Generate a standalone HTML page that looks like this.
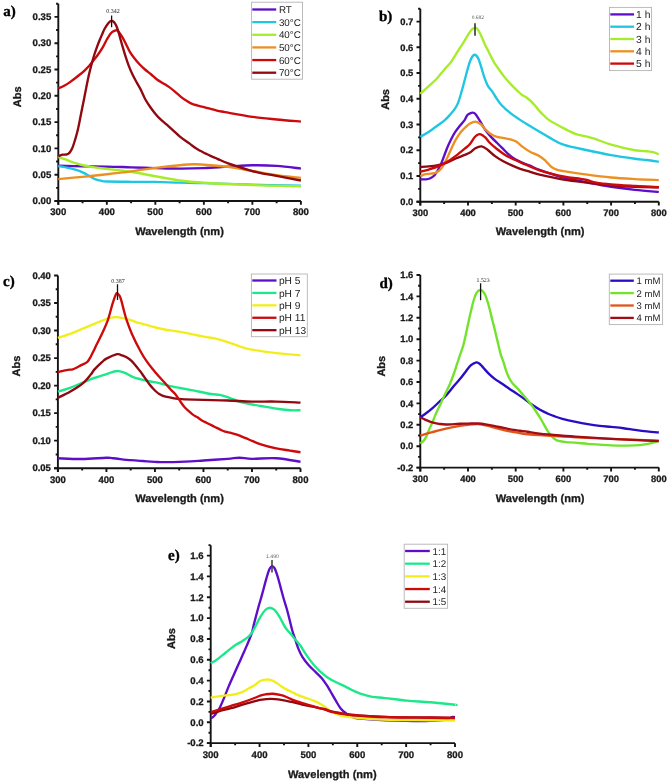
<!DOCTYPE html><html><head><meta charset="utf-8"><style>html,body{margin:0;padding:0;background:#fff;}svg{display:block;text-rendering:geometricPrecision;filter:blur(0.4px);}</style></head><body>
<svg width="669" height="783" viewBox="0 0 669 783">
<rect width="669" height="783" fill="#fff"/>
<g stroke="#141414" stroke-width="1.9" fill="none" stroke-linecap="butt">
<path d="M58.3 3.75 V204.8 M54.5 201 H300.9"/>
<path d="M54.5 201H58.3M54.5 174.7H58.3M54.5 148.4H58.3M54.5 122.1H58.3M54.5 95.8H58.3M54.5 69.5H58.3M54.5 43.2H58.3M54.5 16.9H58.3M56.1 187.85H58.3M56.1 161.55H58.3M56.1 135.25H58.3M56.1 108.95H58.3M56.1 82.65H58.3M56.1 56.35H58.3M56.1 30.05H58.3M56.1 3.75H58.3M58.3 201V204.8M106.82 201V204.8M155.34 201V204.8M203.86 201V204.8M252.38 201V204.8M300.9 201V204.8M82.56 201V203.2M131.08 201V203.2M179.6 201V203.2M228.12 201V203.2M276.64 201V203.2"/>
</g>
<g font-family='"Liberation Sans", sans-serif' font-weight="bold" font-size="9.6" fill="#1a1a1a" stroke="#1a1a1a" stroke-width="0.3">
<text x="51.3" y="204.26" text-anchor="end">0.00</text>
<text x="51.3" y="177.96" text-anchor="end">0.05</text>
<text x="51.3" y="151.66" text-anchor="end">0.10</text>
<text x="51.3" y="125.36" text-anchor="end">0.15</text>
<text x="51.3" y="99.06" text-anchor="end">0.20</text>
<text x="51.3" y="72.76" text-anchor="end">0.25</text>
<text x="51.3" y="46.46" text-anchor="end">0.30</text>
<text x="51.3" y="20.16" text-anchor="end">0.35</text>
<text x="58.3" y="215.47" text-anchor="middle">300</text>
<text x="106.82" y="215.47" text-anchor="middle">400</text>
<text x="155.34" y="215.47" text-anchor="middle">500</text>
<text x="203.86" y="215.47" text-anchor="middle">600</text>
<text x="252.38" y="215.47" text-anchor="middle">700</text>
<text x="300.9" y="215.47" text-anchor="middle">800</text>
</g>
<path d="M58.3 165.76C62.34 165.85 74.47 166.15 82.56 166.28C90.65 166.42 98.73 166.37 106.82 166.55C114.91 166.72 122.99 167.08 131.08 167.34C139.17 167.59 147.25 167.85 155.34 168.07C163.43 168.29 171.51 168.63 179.6 168.65C187.69 168.67 195.77 168.51 203.86 168.18C211.95 167.84 220.03 167.13 228.12 166.65C236.21 166.17 244.29 165.42 252.38 165.28C260.47 165.15 268.55 165.32 276.64 165.86C284.73 166.41 296.86 168.1 300.9 168.55" stroke="#5e0ec8" stroke-width="2.35" fill="none" stroke-linejoin="round" stroke-linecap="butt"/>
<path d="M58.3 166.02C59.92 166.33 65.34 167.29 68 167.86C70.67 168.43 71.89 168.69 74.31 169.44C76.74 170.19 79.97 171.19 82.56 172.33C85.15 173.47 87.65 175.09 89.84 176.28C92.02 177.46 93.64 178.64 95.66 179.43C97.68 180.22 100.11 180.66 101.97 181.01C103.83 181.36 101.97 181.41 106.82 181.54C111.67 181.67 122.99 181.74 131.08 181.8C139.17 181.86 147.25 181.77 155.34 181.91C163.43 182.05 171.51 182.44 179.6 182.64C187.69 182.84 191.73 182.77 203.86 183.12C215.99 183.46 236.21 184.26 252.38 184.69C268.55 185.13 292.81 185.57 300.9 185.75" stroke="#1ec6e2" stroke-width="2.35" fill="none" stroke-linejoin="round" stroke-linecap="butt"/>
<path d="M58.3 156.82C59.51 157.25 63.15 158.53 65.58 159.45C68 160.37 70.14 161.41 72.86 162.34C75.57 163.27 78.24 164.19 81.88 165.02C85.52 165.85 90.37 166.65 94.69 167.34C99.01 168.02 101.73 168.39 107.79 169.12C113.86 169.86 123.16 170.56 131.08 171.75C139 172.95 147.25 174.82 155.34 176.28C163.43 177.73 171.51 179.41 179.6 180.49C187.69 181.56 191.73 181.98 203.86 182.75C215.99 183.52 236.21 184.53 252.38 185.11C268.55 185.7 292.81 186.08 300.9 186.27" stroke="#a6ec2a" stroke-width="2.35" fill="none" stroke-linejoin="round" stroke-linecap="butt"/>
<path d="M58.3 179.17C62.34 178.78 74.47 177.62 82.56 176.8C90.65 175.99 98.73 175.18 106.82 174.28C114.91 173.38 122.99 172.46 131.08 171.39C139.17 170.32 147.25 168.89 155.34 167.86C163.43 166.84 173.13 165.83 179.6 165.23C186.07 164.64 190.11 164.37 194.16 164.29C198.2 164.2 198.2 164.29 203.86 164.71C209.52 165.13 220.03 165.76 228.12 166.81C236.21 167.86 244.29 169.62 252.38 171.02C260.47 172.42 268.55 174.08 276.64 175.23C284.73 176.37 296.86 177.46 300.9 177.91" stroke="#ec9022" stroke-width="2.35" fill="none" stroke-linejoin="round" stroke-linecap="butt"/>
<path d="M58.3 88.44C59.27 88 62.17 86.86 64.12 85.81C66.07 84.75 67.41 83.96 69.99 82.12C72.57 80.28 77.18 76.69 79.6 74.76C82.02 72.83 82.9 72.04 84.5 70.55C86.1 69.06 87.72 67.48 89.21 65.82C90.7 64.15 91.98 62.4 93.43 60.56C94.88 58.72 96.4 56.88 97.89 54.77C99.39 52.67 100.92 50.48 102.4 47.93C103.89 45.39 105.34 42.06 106.82 39.52C108.3 36.98 109.93 34.17 111.28 32.68C112.63 31.19 113.97 30.97 114.92 30.58C115.88 30.18 116.33 30.05 117.01 30.31C117.69 30.58 118.08 30.97 119 32.15C119.91 33.34 121.31 35.4 122.49 37.41C123.67 39.43 124.88 41.89 126.08 44.25C127.29 46.62 128.37 49.34 129.72 51.62C131.07 53.9 132.55 55.82 134.19 57.93C135.82 60.03 137.72 62.31 139.52 64.24C141.33 66.17 143.1 67.83 145.01 69.5C146.91 71.17 148.98 72.57 150.97 74.23C152.97 75.9 155 78 156.99 79.49C158.98 80.98 160.93 81.95 162.91 83.18C164.89 84.4 166.88 85.46 168.88 86.86C170.87 88.26 172.89 89.93 174.89 91.59C176.9 93.26 178.91 95.27 180.91 96.85C182.91 98.43 184.9 99.83 186.88 101.06C188.86 102.29 189.81 103.16 192.8 104.22C195.78 105.27 200.78 106.32 204.78 107.37C208.78 108.42 213.44 109.74 216.81 110.53C220.19 111.32 219.09 111.05 225.01 112.11C230.94 113.16 243.78 115.61 252.38 116.84C260.98 118.07 268.55 118.68 276.64 119.47C284.73 120.26 296.86 121.22 300.9 121.57" stroke="#cc0a0c" stroke-width="2.35" fill="none" stroke-linejoin="round" stroke-linecap="butt"/>
<path d="M58.3 156.29C59 156.03 61.04 155.03 62.47 154.71C63.9 154.4 65.7 154.75 66.89 154.4C68.08 154.05 68.7 153.66 69.61 152.61C70.51 151.56 71.42 150.17 72.32 148.08C73.22 146 74.09 143.07 74.99 140.09C75.89 137.11 76.88 133.64 77.71 130.2C78.53 126.76 79.19 123.19 79.94 119.47C80.69 115.75 81.5 111.49 82.22 107.9C82.94 104.3 83.58 101.32 84.26 97.9C84.94 94.48 85.52 91.24 86.3 87.38C87.07 83.53 88.03 78.62 88.92 74.76C89.8 70.9 90.69 67.57 91.58 64.24C92.48 60.91 93.4 57.66 94.3 54.77C95.21 51.88 96.12 49.34 97.02 46.88C97.92 44.43 98.79 42.24 99.69 40.04C100.59 37.85 101.6 35.57 102.4 33.73C103.21 31.89 103.51 30.75 104.49 29C105.47 27.24 107.14 24.58 108.28 23.21C109.42 21.84 110.38 20.97 111.33 20.79C112.29 20.62 113.18 21.32 114 22.16C114.83 23 115.53 24.18 116.28 25.84C117.03 27.51 117.78 29.79 118.51 32.15C119.25 34.52 119.95 37.41 120.7 40.04C121.44 42.67 122.14 45.13 122.98 47.93C123.81 50.74 124.72 53.9 125.69 56.88C126.66 59.86 127.68 62.92 128.8 65.82C129.92 68.71 131.06 71.43 132.39 74.23C133.72 77.04 135.45 80.17 136.81 82.65C138.16 85.13 139.11 86.4 140.49 89.12C141.88 91.84 143.48 95.98 145.1 98.96C146.72 101.94 148.5 104.55 150.2 107C151.9 109.46 153.59 111.65 155.29 113.68C156.99 115.72 158.42 117.32 160.39 119.21C162.35 121.09 163.88 122.14 167.08 124.99C170.28 127.84 175.78 133.15 179.6 136.3C183.42 139.45 187.4 141.96 189.98 143.88C192.57 145.8 193.42 146.66 195.13 147.82C196.83 148.98 198.52 149.89 200.22 150.82C201.92 151.75 203.62 152.55 205.32 153.4C207.01 154.25 208.71 155.15 210.41 155.92C212.11 156.69 213.9 157.34 215.5 158.03C217.11 158.71 217.91 159.14 220.02 160.02C222.12 160.91 222.73 161.51 228.12 163.34C233.51 165.17 244.29 168.91 252.38 171.02C260.47 173.12 268.55 174.38 276.64 175.96C284.73 177.54 296.86 179.73 300.9 180.49" stroke="#900810" stroke-width="2.35" fill="none" stroke-linejoin="round" stroke-linecap="butt"/>
<path d="M111.6 15.5V27.2" stroke="#111" stroke-width="1.3"/>
<text x="112.9" y="13.2" text-anchor="middle" font-family='"Liberation Serif", serif' font-size="6.0" fill="#222">0.342</text>
<rect x="251.6" y="2.2" width="50.9" height="77" fill="#fff" stroke="#b4b4b4" stroke-width="0.9"/>
<path d="M252.3 9.5H276.2" stroke="#5e0ec8" stroke-width="2.3"/>
<text x="278.9" y="13.03" font-family='"Liberation Sans", sans-serif' font-size="9.8" fill="#222">RT</text>
<path d="M252.3 22.14H276.2" stroke="#1ec6e2" stroke-width="2.3"/>
<text x="278.9" y="25.67" font-family='"Liberation Sans", sans-serif' font-size="9.8" fill="#222">30°C</text>
<path d="M252.3 34.78H276.2" stroke="#a6ec2a" stroke-width="2.3"/>
<text x="278.9" y="38.31" font-family='"Liberation Sans", sans-serif' font-size="9.8" fill="#222">40°C</text>
<path d="M252.3 47.42H276.2" stroke="#ec9022" stroke-width="2.3"/>
<text x="278.9" y="50.95" font-family='"Liberation Sans", sans-serif' font-size="9.8" fill="#222">50°C</text>
<path d="M252.3 60.06H276.2" stroke="#cc0a0c" stroke-width="2.3"/>
<text x="278.9" y="63.59" font-family='"Liberation Sans", sans-serif' font-size="9.8" fill="#222">60°C</text>
<path d="M252.3 72.7H276.2" stroke="#900810" stroke-width="2.3"/>
<text x="278.9" y="76.23" font-family='"Liberation Sans", sans-serif' font-size="9.8" fill="#222">70°C</text>
<text x="0" y="0" transform="translate(20.7 96.8) rotate(-90)" text-anchor="middle" font-family='"Liberation Sans", sans-serif' font-weight="bold" font-size="11" fill="#1a1a1a" stroke="#1a1a1a" stroke-width="0.3">Abs</text>
<text x="135.2" y="235.4" font-family='"Liberation Sans", sans-serif' font-weight="bold" font-size="11.07" fill="#1a1a1a" stroke="#1a1a1a" stroke-width="0.3">Wavelength (nm)</text>
<text x="3.2" y="15.8" font-family='"Liberation Serif", serif' font-weight="bold" font-size="15" fill="#000" stroke="#000" stroke-width="0.35">a)</text>
<g stroke="#141414" stroke-width="1.9" fill="none" stroke-linecap="butt">
<path d="M420.3 8.72 V205.5 M416.5 201.7 H658.8"/>
<path d="M416.5 201.7H420.3M416.5 175.97H420.3M416.5 150.24H420.3M416.5 124.51H420.3M416.5 98.78H420.3M416.5 73.05H420.3M416.5 47.32H420.3M416.5 21.59H420.3M418.1 188.83H420.3M418.1 163.1H420.3M418.1 137.38H420.3M418.1 111.64H420.3M418.1 85.91H420.3M418.1 60.18H420.3M418.1 34.45H420.3M418.1 8.72H420.3M420.3 201.7V205.5M468 201.7V205.5M515.7 201.7V205.5M563.4 201.7V205.5M611.1 201.7V205.5M658.8 201.7V205.5M444.15 201.7V203.9M491.85 201.7V203.9M539.55 201.7V203.9M587.25 201.7V203.9M634.95 201.7V203.9"/>
</g>
<g font-family='"Liberation Sans", sans-serif' font-weight="bold" font-size="9.4" fill="#1a1a1a" stroke="#1a1a1a" stroke-width="0.3">
<text x="413.3" y="204.9" text-anchor="end">0.0</text>
<text x="413.3" y="179.17" text-anchor="end">0.1</text>
<text x="413.3" y="153.44" text-anchor="end">0.2</text>
<text x="413.3" y="127.71" text-anchor="end">0.3</text>
<text x="413.3" y="101.98" text-anchor="end">0.4</text>
<text x="413.3" y="76.25" text-anchor="end">0.5</text>
<text x="413.3" y="50.52" text-anchor="end">0.6</text>
<text x="413.3" y="24.79" text-anchor="end">0.7</text>
<text x="420.3" y="216.03" text-anchor="middle">300</text>
<text x="468" y="216.03" text-anchor="middle">400</text>
<text x="515.7" y="216.03" text-anchor="middle">500</text>
<text x="563.4" y="216.03" text-anchor="middle">600</text>
<text x="611.1" y="216.03" text-anchor="middle">700</text>
<text x="658.8" y="216.03" text-anchor="middle">800</text>
</g>
<path d="M420.3 179.39C421.15 179.39 423.82 179.53 425.4 179.39C426.99 179.25 428.31 179.2 429.79 178.54C431.28 177.89 432.97 176.87 434.32 175.46C435.68 174.04 436.71 172.15 437.9 170.05C439.09 167.95 440.44 165.21 441.48 162.85C442.52 160.49 443.26 158.26 444.15 155.9C445.04 153.54 445.78 151.23 446.82 148.7C447.86 146.17 449.05 143.42 450.4 140.72C451.75 138.02 453.28 135.06 454.93 132.49C456.58 129.91 458.68 127.38 460.32 125.28C461.96 123.18 463.61 121.55 464.76 119.88C465.9 118.21 466.31 116.32 467.19 115.25C468.06 114.18 469.09 113.87 470 113.45C470.92 113.02 471.78 112.59 472.67 112.67C473.57 112.76 474.34 112.85 475.39 113.96C476.44 115.08 477.77 117.43 478.97 119.36C480.17 121.29 481.4 123.61 482.6 125.54C483.79 127.47 484.64 128.97 486.13 130.94C487.61 132.92 489.72 135.4 491.52 137.38C493.31 139.35 495.1 140.98 496.91 142.78C498.71 144.58 500.54 146.38 502.34 148.18C504.15 149.98 505.65 151.78 507.73 153.58C509.82 155.39 512.46 157.49 514.84 158.99C517.22 160.49 519.47 161.48 522 162.59C524.52 163.71 527.08 164.48 530.01 165.68C532.94 166.88 533.98 167.82 539.55 169.79C545.12 171.77 555.45 175.41 563.4 177.51C571.35 179.62 579.3 180.86 587.25 182.4C595.2 183.95 603.15 185.53 611.1 186.78C619.05 188.02 627 189.01 634.95 189.86C642.9 190.72 654.82 191.58 658.8 191.92" stroke="#5e0ec8" stroke-width="2.35" fill="none" stroke-linejoin="round" stroke-linecap="butt"/>
<path d="M420.3 136.86C421.73 136 425.94 133.64 428.89 131.71C431.83 129.78 435.25 127.25 437.95 125.28C440.65 123.31 443.09 121.64 445.1 119.88C447.12 118.12 448.44 116.53 450.02 114.73C451.6 112.93 453.27 111 454.6 109.07C455.92 107.14 456.83 106.03 457.98 103.15C459.14 100.28 460.36 95.82 461.51 91.83C462.67 87.84 463.75 83.47 464.9 79.23C466.04 74.98 467.32 69.83 468.38 66.36C469.45 62.89 470.23 60.31 471.29 58.38C472.35 56.45 473.57 54.78 474.73 54.78C475.88 54.78 477.16 56.45 478.21 58.38C479.26 60.31 479.97 63.1 481.02 66.36C482.07 69.62 483.36 74.68 484.5 77.94C485.65 81.2 486.56 83.6 487.89 85.91C489.23 88.23 491.17 89.9 492.52 91.83C493.87 93.76 494.52 95.31 496 97.49C497.48 99.68 498.98 102.34 501.39 104.96C503.8 107.57 507.47 110.79 510.45 113.19C513.43 115.59 516.02 117.22 519.28 119.36C522.54 121.51 526.63 124 530.01 126.05C533.39 128.11 536.29 129.78 539.55 131.71C542.81 133.64 545.59 135.49 549.57 137.63C553.54 139.78 557.12 142.48 563.4 144.58C569.68 146.68 579.3 148.48 587.25 150.24C595.2 152 603.15 153.71 611.1 155.13C619.05 156.54 628.99 157.92 634.95 158.73C640.91 159.55 642.9 159.5 646.88 160.02C650.85 160.53 656.81 161.52 658.8 161.82" stroke="#1ec6e2" stroke-width="2.35" fill="none" stroke-linejoin="round" stroke-linecap="butt"/>
<path d="M420.3 93.89C421.85 92.48 426.79 88.02 429.6 85.4C432.42 82.78 434.78 80.77 437.19 78.2C439.59 75.62 441.76 72.58 444.01 69.96C446.26 67.35 448.83 64.9 450.68 62.5C452.54 60.1 453.74 57.74 455.12 55.55C456.5 53.37 457.66 51.44 458.98 49.38C460.31 47.32 461.74 45.35 463.09 43.2C464.44 41.06 465.86 38.53 467.09 36.51C468.33 34.5 469.46 32.44 470.48 31.11C471.5 29.78 472.41 29.05 473.2 28.54C473.99 28.02 474.53 27.98 475.2 28.02C475.87 28.07 476.42 27.94 477.21 28.79C477.99 29.65 479.03 31.45 479.93 33.17C480.82 34.88 481.7 37.07 482.6 39.09C483.49 41.1 484.31 43.16 485.32 45.26C486.32 47.36 487.52 49.55 488.61 51.69C489.7 53.84 490.78 56.09 491.85 58.13C492.92 60.16 493.73 61.9 495 63.92C496.27 65.93 497.99 68.14 499.48 70.22C500.98 72.3 502.46 74.47 503.97 76.39C505.47 78.32 507.01 80.13 508.5 81.8C509.98 83.47 511.4 84.93 512.89 86.43C514.37 87.93 515.91 89.39 517.42 90.8C518.92 92.22 520.4 93.81 521.9 94.92C523.4 96.04 524.94 96.46 526.43 97.49C527.93 98.52 529.37 99.68 530.87 101.1C532.36 102.51 533.91 104.27 535.4 105.98C536.89 107.7 538.45 109.89 539.79 111.39C541.12 112.89 541.86 113.53 543.41 114.99C544.96 116.45 545.76 117.95 549.09 120.14C552.42 122.32 559.03 125.84 563.4 128.11C567.77 130.39 571.35 132.36 575.33 133.77C579.3 135.19 584.07 135.79 587.25 136.6C590.43 137.42 590.43 137.33 594.4 138.66C598.38 139.99 604.34 142.65 611.1 144.58C617.86 146.51 628.99 149.13 634.95 150.24C640.91 151.35 643.7 150.93 646.88 151.27C650.05 151.61 652.04 151.78 654.03 152.3C656.02 152.81 658 154.01 658.8 154.36" stroke="#a6ec2a" stroke-width="2.35" fill="none" stroke-linejoin="round" stroke-linecap="butt"/>
<path d="M420.3 176.23C421.15 175.88 423.67 174.6 425.4 174.17C427.14 173.74 428.92 173.91 430.7 173.65C432.48 173.4 434.44 173.35 436.09 172.63C437.74 171.9 439.27 170.74 440.62 169.28C441.97 167.82 443.01 165.98 444.2 163.88C445.38 161.78 446.54 159.2 447.73 156.67C448.91 154.14 449.96 151.53 451.31 148.7C452.65 145.87 454.16 142.52 455.79 139.69C457.42 136.86 459.3 133.94 461.08 131.71C462.86 129.48 464.99 127.68 466.47 126.31C467.96 124.94 468.52 124.25 470 123.48C471.49 122.71 473.6 121.55 475.39 121.68C477.19 121.81 478.99 122.84 480.78 124.25C482.57 125.67 484.34 128.46 486.13 130.17C487.91 131.89 489.72 133.43 491.52 134.54C493.31 135.66 494.81 136.26 496.91 136.86C499 137.46 501.71 137.68 504.11 138.15C506.51 138.62 509.23 139.09 511.31 139.69C513.39 140.29 514.83 140.63 516.61 141.75C518.39 142.86 519.76 144.71 522 146.38C524.23 148.05 527.08 150.15 530.01 151.78C532.94 153.41 536.93 154.61 539.55 156.16C542.17 157.7 543.76 159.25 545.75 161.05C547.74 162.85 549.57 165.51 551.48 166.96C553.38 168.42 555.21 169.11 557.2 169.79C559.19 170.48 558.39 170.27 563.4 171.08C568.41 171.9 579.3 173.61 587.25 174.68C595.2 175.76 603.15 176.78 611.1 177.51C619.05 178.24 627 178.63 634.95 179.06C642.9 179.49 654.82 179.92 658.8 180.09" stroke="#ec9022" stroke-width="2.35" fill="none" stroke-linejoin="round" stroke-linecap="butt"/>
<path d="M420.3 166.96C421.73 166.88 425.94 166.75 428.89 166.45C431.83 166.15 434.96 165.81 437.95 165.16C440.94 164.52 443.85 163.71 446.82 162.59C449.79 161.48 452.8 159.76 455.79 158.47C458.78 157.19 462.39 155.86 464.76 154.87C467.13 153.89 468.23 153.67 470 152.56C471.78 151.44 473.45 149.21 475.39 148.18C477.34 147.15 479.61 146.08 481.69 146.38C483.77 146.68 485.66 148.35 487.89 149.98C490.12 151.61 492.68 154.36 495.09 156.16C497.5 157.96 499.64 159.29 502.34 160.79C505.05 162.29 508.33 163.83 511.31 165.16C514.29 166.49 517.12 167.65 520.23 168.77C523.35 169.88 526.79 170.87 530.01 171.85C533.23 172.84 533.98 173.4 539.55 174.68C545.12 175.97 555.45 178.24 563.4 179.57C571.35 180.9 579.3 181.72 587.25 182.66C595.2 183.6 603.15 184.55 611.1 185.23C619.05 185.92 627 186.43 634.95 186.78C642.9 187.12 654.82 187.21 658.8 187.29" stroke="#900810" stroke-width="2.35" fill="none" stroke-linejoin="round" stroke-linecap="butt"/>
<path d="M420.3 171.85C421.73 171.47 425.94 170.44 428.89 169.54C431.83 168.64 434.96 167.69 437.95 166.45C440.94 165.21 443.85 163.83 446.82 162.08C449.79 160.32 452.8 158.13 455.79 155.9C458.78 153.67 462.39 150.67 464.76 148.7C467.13 146.72 468.38 145.95 470 144.06C471.63 142.18 473.23 138.92 474.49 137.38C475.74 135.83 476.49 135.32 477.54 134.8C478.59 134.29 479.5 133.86 480.78 134.29C482.06 134.72 483.73 135.96 485.22 137.38C486.71 138.79 487.76 140.85 489.7 142.78C491.65 144.71 494.2 146.85 496.91 148.95C499.61 151.05 502.93 153.58 505.92 155.39C508.91 157.19 511.86 158.34 514.84 159.76C517.82 161.18 521.28 162.76 523.81 163.88C526.34 164.99 527.39 165.38 530.01 166.45C532.63 167.52 533.98 168.64 539.55 170.31C545.12 171.98 556.56 175.07 563.4 176.48C570.24 177.9 576.6 178.2 580.57 178.8C584.55 179.4 584.63 179.44 587.25 180.09C589.87 180.73 592.34 181.93 596.31 182.66C600.29 183.39 604.66 183.9 611.1 184.46C617.54 185.02 627 185.53 634.95 186C642.9 186.48 654.82 187.08 658.8 187.29" stroke="#cc0a0c" stroke-width="2.35" fill="none" stroke-linejoin="round" stroke-linecap="butt"/>
<path d="M475 23.2V35.7" stroke="#333" stroke-width="1.6"/>
<text x="477.8" y="18.6" text-anchor="middle" font-family='"Liberation Serif", serif' font-size="5.4" fill="#555">0.682</text>
<rect x="609.5" y="7.4" width="42.1" height="63.2" fill="#fff" stroke="#b4b4b4" stroke-width="0.9"/>
<path d="M610.3 14.4H634" stroke="#5e0ec8" stroke-width="2.3"/>
<text x="636.1" y="18.11" font-family='"Liberation Sans", sans-serif' font-size="10.3" fill="#222">1 h</text>
<path d="M610.3 26.7H634" stroke="#1ec6e2" stroke-width="2.3"/>
<text x="636.1" y="30.41" font-family='"Liberation Sans", sans-serif' font-size="10.3" fill="#222">2 h</text>
<path d="M610.3 39H634" stroke="#a6ec2a" stroke-width="2.3"/>
<text x="636.1" y="42.7" font-family='"Liberation Sans", sans-serif' font-size="10.3" fill="#222">3 h</text>
<path d="M610.3 51.3H634" stroke="#ec9022" stroke-width="2.3"/>
<text x="636.1" y="55.01" font-family='"Liberation Sans", sans-serif' font-size="10.3" fill="#222">4 h</text>
<path d="M610.3 63.6H634" stroke="#cc0a0c" stroke-width="2.3"/>
<text x="636.1" y="67.3" font-family='"Liberation Sans", sans-serif' font-size="10.3" fill="#222">5 h</text>
<text x="0" y="0" transform="translate(388.8 99.4) rotate(-90)" text-anchor="middle" font-family='"Liberation Sans", sans-serif' font-weight="bold" font-size="11" fill="#1a1a1a" stroke="#1a1a1a" stroke-width="0.3">Abs</text>
<text x="495.8" y="235.4" font-family='"Liberation Sans", sans-serif' font-weight="bold" font-size="11.07" fill="#1a1a1a" stroke="#1a1a1a" stroke-width="0.3">Wavelength (nm)</text>
<text x="379" y="21.3" font-family='"Liberation Serif", serif' font-weight="bold" font-size="15" fill="#000" stroke="#000" stroke-width="0.35">b)</text>
<g stroke="#141414" stroke-width="1.9" fill="none" stroke-linecap="butt">
<path d="M57.9 275.49 V472 M54.1 468.2 H300.5"/>
<path d="M54.1 468.2H57.9M54.1 440.67H57.9M54.1 413.14H57.9M54.1 385.61H57.9M54.1 358.08H57.9M54.1 330.55H57.9M54.1 303.02H57.9M54.1 275.49H57.9M55.7 454.44H57.9M55.7 426.91H57.9M55.7 399.38H57.9M55.7 371.85H57.9M55.7 344.31H57.9M55.7 316.78H57.9M55.7 289.25H57.9M57.9 468.2V472M106.42 468.2V472M154.94 468.2V472M203.46 468.2V472M251.98 468.2V472M300.5 468.2V472M82.16 468.2V470.4M130.68 468.2V470.4M179.2 468.2V470.4M227.72 468.2V470.4M276.24 468.2V470.4"/>
</g>
<g font-family='"Liberation Sans", sans-serif' font-weight="bold" font-size="9.5" fill="#1a1a1a" stroke="#1a1a1a" stroke-width="0.3">
<text x="50.9" y="471.43" text-anchor="end">0.05</text>
<text x="50.9" y="443.9" text-anchor="end">0.10</text>
<text x="50.9" y="416.37" text-anchor="end">0.15</text>
<text x="50.9" y="388.84" text-anchor="end">0.20</text>
<text x="50.9" y="361.31" text-anchor="end">0.25</text>
<text x="50.9" y="333.78" text-anchor="end">0.30</text>
<text x="50.9" y="306.25" text-anchor="end">0.35</text>
<text x="50.9" y="278.72" text-anchor="end">0.40</text>
<text x="57.9" y="482.6" text-anchor="middle">300</text>
<text x="106.42" y="482.6" text-anchor="middle">400</text>
<text x="154.94" y="482.6" text-anchor="middle">500</text>
<text x="203.46" y="482.6" text-anchor="middle">600</text>
<text x="251.98" y="482.6" text-anchor="middle">700</text>
<text x="300.5" y="482.6" text-anchor="middle">800</text>
</g>
<path d="M57.9 458.29C61.94 458.41 74.07 459.1 82.16 459C90.25 458.91 101.24 457.86 106.42 457.74C111.6 457.62 109.17 457.89 113.21 458.29C117.26 458.69 125.75 459.7 130.68 460.16C135.61 460.62 138.77 460.77 142.81 461.04C146.85 461.32 151.79 461.63 154.94 461.81C158.09 462 156.72 462.18 161.73 462.14C166.75 462.11 178.07 461.87 185.02 461.59C191.98 461.32 196.34 460.95 203.46 460.49C210.58 460.03 221.74 459.3 227.72 458.84C233.7 458.38 235.32 457.74 239.36 457.74C243.41 457.74 245.83 458.75 251.98 458.84C258.13 458.93 268.15 457.8 276.24 458.29C284.33 458.78 296.46 461.18 300.5 461.76" stroke="#5e0ec8" stroke-width="2.35" fill="none" stroke-linejoin="round" stroke-linecap="butt"/>
<path d="M57.9 391.67C59.92 391.02 65.99 389.28 70.03 387.81C74.07 386.34 78.12 384.51 82.16 382.86C86.2 381.21 90.25 379.37 94.29 377.9C98.33 376.43 102.62 375.19 106.42 374.05C110.22 372.9 114.02 371.2 117.09 371.02C120.17 370.84 122.27 371.98 124.86 372.95C127.45 373.91 130.1 375.77 132.62 376.8C135.14 377.83 137.7 378.46 140 379.11C142.29 379.76 144.27 380.24 146.4 380.71C148.54 381.18 150.67 381.51 152.81 381.92C154.94 382.33 157.07 382.71 159.21 383.19C161.34 383.66 163.48 384.25 165.61 384.78C167.75 385.32 169.63 385.85 172.02 386.38C174.41 386.91 176.5 387.31 179.98 387.98C183.45 388.65 187.73 389.4 192.88 390.4C198.03 391.4 206.4 393.23 210.88 393.98C215.37 394.73 216.83 394.31 219.81 394.92C222.8 395.52 226.26 396.8 228.79 397.61C231.32 398.43 233.24 399.12 235 399.82C236.76 400.51 236.86 401.09 239.36 401.8C241.87 402.5 246.46 403.36 250.04 404.06C253.62 404.75 256.06 405.16 260.86 405.98C265.65 406.81 273.82 408.3 278.81 409.01C283.8 409.72 287.18 410.02 290.8 410.22C294.41 410.42 298.88 410.22 300.5 410.22" stroke="#1ce88a" stroke-width="2.35" fill="none" stroke-linejoin="round" stroke-linecap="butt"/>
<path d="M57.9 337.87C59.92 337.2 65.99 335.35 70.03 333.85C74.07 332.36 78.12 330.55 82.16 328.9C86.2 327.25 90.25 325.59 94.29 323.94C98.33 322.29 103.27 320.09 106.42 318.99C109.57 317.89 111.11 317.61 113.21 317.34C115.32 317.06 116.12 316.88 119.04 317.34C121.95 317.79 127.77 319.26 130.68 320.09C133.59 320.91 134.48 321.65 136.5 322.29C138.52 322.93 139.74 323.12 142.81 323.94C145.88 324.77 150.9 326.24 154.94 327.25C158.98 328.26 163.03 329.27 167.07 330C171.11 330.73 173.14 330.55 179.2 331.65C185.27 332.75 197.23 335.41 203.46 336.61C209.69 337.8 212.52 337.89 216.56 338.81C220.6 339.73 223.11 340.61 227.72 342.11C232.33 343.62 240.17 346.58 244.22 347.84C248.26 349.1 246.64 348.77 251.98 349.66C257.32 350.54 268.15 352.18 276.24 353.12C284.33 354.07 296.46 354.96 300.5 355.33" stroke="#f2ee1e" stroke-width="2.35" fill="none" stroke-linejoin="round" stroke-linecap="butt"/>
<path d="M57.9 397.72C59.92 396.71 65.99 393.96 70.03 391.67C74.07 389.37 78.71 386.8 82.16 383.96C85.61 381.11 88.73 376.98 90.75 374.6C92.77 372.21 92.38 371.75 94.29 369.64C96.2 367.53 100.18 363.77 102.2 361.93C104.22 360.1 103.94 359.92 106.42 358.63C108.9 357.35 114.67 354.82 117.09 354.23C119.52 353.63 119.66 354.68 120.98 355.05C122.29 355.42 123.25 355.46 125 356.43C126.76 357.4 129.01 358.45 131.5 360.89C134 363.33 138.05 368.64 140 371.07C141.94 373.51 142.13 373.99 143.2 375.48C144.27 376.97 145.33 378.49 146.4 379.99C147.47 381.5 148.54 383.12 149.6 384.51C150.67 385.89 151.74 387.14 152.81 388.31C153.87 389.47 154.94 390.54 156.01 391.5C157.07 392.46 158.14 393.39 159.21 394.09C160.28 394.79 161.34 395.26 162.41 395.69C163.48 396.11 164.01 396.25 165.61 396.62C167.22 396.99 169.91 397.51 172.02 397.89C174.13 398.26 176.11 398.63 178.28 398.88C180.45 399.13 180.83 399.2 185.02 399.38C189.22 399.55 196.34 399.74 203.46 399.93C210.58 400.11 219.63 400.2 227.72 400.48C235.81 400.75 243.89 401.39 251.98 401.58C260.07 401.76 268.15 401.39 276.24 401.58C284.33 401.76 296.46 402.5 300.5 402.68" stroke="#900810" stroke-width="2.35" fill="none" stroke-linejoin="round" stroke-linecap="butt"/>
<path d="M57.9 372.12C58.58 371.95 60.29 371.44 61.98 371.07C63.66 370.71 66.21 370.21 67.99 369.92C69.78 369.62 71.21 369.72 72.7 369.31C74.19 368.91 75.52 368.19 76.92 367.5C78.32 366.8 79.8 365.78 81.09 365.13C82.39 364.48 83.58 364.19 84.68 363.59C85.78 362.98 86.69 362.64 87.69 361.49C88.69 360.35 89.7 358.49 90.7 356.7C91.7 354.91 92.75 352.74 93.71 350.76C94.67 348.77 95.06 347.72 96.47 344.81C97.89 341.9 100.27 337.52 102.2 333.3C104.12 329.09 106.29 324.49 108.02 319.54C109.75 314.58 111.26 307.79 112.58 303.57C113.91 299.35 115.12 295.86 115.98 294.21C116.84 292.56 116.96 293.02 117.73 293.66C118.49 294.3 119.53 295.13 120.59 298.06C121.65 301 123.05 307.52 124.08 311.28C125.12 315.04 125.46 316.79 126.8 320.64C128.14 324.49 129.83 329.27 132.14 334.4C134.44 339.54 138.25 347.07 140.63 351.47C143 355.88 144.37 357.88 146.4 360.83C148.43 363.79 150.67 366.54 152.81 369.2C154.94 371.86 157.07 374.37 159.21 376.8C161.34 379.23 163.48 381.44 165.61 383.79C167.75 386.14 170.39 389.17 172.02 390.9C173.65 392.62 174.17 392.59 175.42 394.14C176.66 395.7 178.06 398.14 179.49 400.2C180.92 402.27 182.5 404.73 184 406.53C185.51 408.33 187.04 409.64 188.52 410.99C190 412.34 191.4 413.57 192.88 414.63C194.36 415.68 195.89 416.36 197.4 417.32C198.9 418.29 200.41 419.51 201.91 420.41C203.4 421.31 204.88 421.97 206.37 422.72C207.87 423.47 209.38 424.18 210.88 424.92C212.39 425.67 213.91 426.44 215.4 427.18C216.88 427.92 218.21 428.63 219.81 429.38C221.41 430.14 223.14 431.11 225 431.7C226.86 432.28 228.98 432.4 230.97 432.91C232.96 433.41 233.95 433.62 236.94 434.72C239.92 435.82 244.89 437.92 248.87 439.51C252.86 441.11 256.3 442.83 260.86 444.3C265.42 445.78 271.41 447.33 276.24 448.38C281.07 449.42 285.78 449.94 289.83 450.58C293.87 451.22 298.72 451.96 300.5 452.23" stroke="#cc0a0c" stroke-width="2.35" fill="none" stroke-linejoin="round" stroke-linecap="butt"/>
<path d="M117.5 284.2V300" stroke="#111" stroke-width="1.3"/>
<text x="118.1" y="282.9" text-anchor="middle" font-family='"Liberation Serif", serif' font-size="6.0" fill="#222">0.387</text>
<rect x="251.4" y="274" width="55.9" height="62.7" fill="#fff" stroke="#b4b4b4" stroke-width="0.9"/>
<path d="M252.3 280.5H276.5" stroke="#5e0ec8" stroke-width="2.3"/>
<text x="278.9" y="284.17" font-family='"Liberation Sans", sans-serif' font-size="10.2" fill="#222">pH 5</text>
<path d="M252.3 292.92H276.5" stroke="#1ce88a" stroke-width="2.3"/>
<text x="278.9" y="296.59" font-family='"Liberation Sans", sans-serif' font-size="10.2" fill="#222">pH 7</text>
<path d="M252.3 305.34H276.5" stroke="#f2ee1e" stroke-width="2.3"/>
<text x="278.9" y="309.01" font-family='"Liberation Sans", sans-serif' font-size="10.2" fill="#222">pH 9</text>
<path d="M252.3 317.76H276.5" stroke="#cc0a0c" stroke-width="2.3"/>
<text x="278.9" y="321.43" font-family='"Liberation Sans", sans-serif' font-size="10.2" fill="#222">pH 11</text>
<path d="M252.3 330.18H276.5" stroke="#900810" stroke-width="2.3"/>
<text x="278.9" y="333.85" font-family='"Liberation Sans", sans-serif' font-size="10.2" fill="#222">pH 13</text>
<text x="0" y="0" transform="translate(20.2 366.1) rotate(-90)" text-anchor="middle" font-family='"Liberation Sans", sans-serif' font-weight="bold" font-size="11" fill="#1a1a1a" stroke="#1a1a1a" stroke-width="0.3">Abs</text>
<text x="135.2" y="502.3" font-family='"Liberation Sans", sans-serif' font-weight="bold" font-size="11.07" fill="#1a1a1a" stroke="#1a1a1a" stroke-width="0.3">Wavelength (nm)</text>
<text x="3" y="285.6" font-family='"Liberation Serif", serif' font-weight="bold" font-size="15" fill="#000" stroke="#000" stroke-width="0.35">c)</text>
<g stroke="#141414" stroke-width="1.9" fill="none" stroke-linecap="butt">
<path d="M420.3 275 V471.4 M416.5 467.6 H658.8"/>
<path d="M416.5 467.6H420.3M416.5 446.2H420.3M416.5 424.8H420.3M416.5 403.4H420.3M416.5 382H420.3M416.5 360.6H420.3M416.5 339.2H420.3M416.5 317.8H420.3M416.5 296.4H420.3M416.5 275H420.3M418.1 456.9H420.3M418.1 435.5H420.3M418.1 414.1H420.3M418.1 392.7H420.3M418.1 371.3H420.3M418.1 349.9H420.3M418.1 328.5H420.3M418.1 307.1H420.3M418.1 285.7H420.3M420.3 467.6V471.4M468 467.6V471.4M515.7 467.6V471.4M563.4 467.6V471.4M611.1 467.6V471.4M658.8 467.6V471.4M444.15 467.6V469.8M491.85 467.6V469.8M539.55 467.6V469.8M587.25 467.6V469.8M634.95 467.6V469.8"/>
</g>
<g font-family='"Liberation Sans", sans-serif' font-weight="bold" font-size="9.4" fill="#1a1a1a" stroke="#1a1a1a" stroke-width="0.3">
<text x="413.3" y="470.8" text-anchor="end">-0.2</text>
<text x="413.3" y="449.4" text-anchor="end">0.0</text>
<text x="413.3" y="428" text-anchor="end">0.2</text>
<text x="413.3" y="406.6" text-anchor="end">0.4</text>
<text x="413.3" y="385.2" text-anchor="end">0.6</text>
<text x="413.3" y="363.8" text-anchor="end">0.8</text>
<text x="413.3" y="342.4" text-anchor="end">1.0</text>
<text x="413.3" y="321" text-anchor="end">1.2</text>
<text x="413.3" y="299.6" text-anchor="end">1.4</text>
<text x="413.3" y="278.2" text-anchor="end">1.6</text>
<text x="420.3" y="481.93" text-anchor="middle">300</text>
<text x="468" y="481.93" text-anchor="middle">400</text>
<text x="515.7" y="481.93" text-anchor="middle">500</text>
<text x="563.4" y="481.93" text-anchor="middle">600</text>
<text x="611.1" y="481.93" text-anchor="middle">700</text>
<text x="658.8" y="481.93" text-anchor="middle">800</text>
</g>
<path d="M420.3 417.31C421.1 416.76 423.08 415.49 425.07 413.99C427.06 412.5 429.89 410.32 432.23 408.32C434.56 406.32 436.78 404.17 439.09 402.01C441.41 399.85 443.65 398.05 446.11 395.38C448.56 392.7 451.54 388.67 453.83 385.96C456.13 383.25 457.98 381.41 459.89 379.11C461.8 376.81 463.48 374.46 465.28 372.16C467.09 369.86 468.99 366.91 470.72 365.31C472.44 363.7 474.28 362.88 475.63 362.53C476.98 362.17 477.77 362.56 478.83 363.17C479.89 363.77 480.83 364.97 481.98 366.16C483.12 367.36 484.44 368.96 485.7 370.34C486.95 371.71 488.01 372.98 489.51 374.4C491.02 375.83 492.61 377.33 494.71 378.9C496.82 380.47 499.67 382.14 502.15 383.82C504.63 385.5 507.11 387.28 509.59 388.95C512.08 390.63 514.58 392.18 517.08 393.88C519.59 395.57 522.23 397.39 524.62 399.12C527.01 400.85 528.87 402.47 531.44 404.26C534.01 406.04 537.36 408.29 540.03 409.82C542.69 411.35 544.94 412.35 547.42 413.46C549.9 414.56 552.41 415.56 554.91 416.45C557.41 417.35 558.92 417.9 562.4 418.81C565.88 419.72 571.58 421.02 575.8 421.91C580.02 422.8 583.75 423.5 587.73 424.16C591.7 424.82 595.76 425.41 599.65 425.87C603.55 426.33 607.12 426.55 611.1 426.94C615.08 427.33 619.53 427.72 623.5 428.22C627.48 428.72 631.05 429.4 634.95 429.94C638.85 430.47 642.9 431.01 646.88 431.43C650.85 431.86 656.81 432.33 658.8 432.5" stroke="#2a0cc4" stroke-width="2.35" fill="none" stroke-linejoin="round" stroke-linecap="butt"/>
<path d="M420.3 443.52C420.38 443.44 420.22 443.45 420.78 442.99C421.33 442.53 422.7 441.85 423.64 440.74C424.58 439.64 425.48 438.25 426.41 436.36C427.34 434.47 428.27 431.61 429.22 429.4C430.17 427.19 431.14 425.3 432.08 423.09C433.03 420.88 433.96 418.34 434.9 416.13C435.83 413.92 436.78 411.82 437.71 409.82C438.64 407.82 439.55 406.15 440.48 404.15C441.41 402.15 442.35 399.85 443.29 397.84C444.23 395.82 444.98 394.41 446.11 392.06C447.23 389.7 448.73 386.76 450.02 383.71C451.31 380.66 452.69 376.97 453.83 373.76C454.98 370.55 455.88 367.52 456.89 364.45C457.9 361.38 458.8 358.6 459.89 355.36C460.98 352.11 462.4 348.6 463.42 344.98C464.44 341.36 465.14 337.52 466 333.64C466.86 329.75 467.72 325.5 468.57 321.65C469.42 317.8 470.25 314.09 471.1 310.52C471.95 306.96 472.75 303.25 473.68 300.25C474.61 297.26 475.53 294.26 476.68 292.55C477.83 290.84 479.3 289.84 480.59 289.98C481.88 290.12 483.27 291.55 484.41 293.4C485.55 295.26 486.48 298.25 487.41 301.11C488.34 303.96 489.14 307.24 489.99 310.52C490.84 313.81 491.67 317.39 492.52 320.8C493.37 324.2 494.24 327.45 495.09 330.96C495.95 334.47 496.74 338.01 497.67 341.88C498.6 345.74 499.67 350.7 500.67 354.18C501.68 357.66 502.81 360.1 503.68 362.74C504.55 365.38 505.05 367.57 505.92 370.02C506.79 372.46 507.77 375.17 508.88 377.4C509.99 379.63 511.23 381.64 512.6 383.39C513.97 385.14 515.58 386.26 517.08 387.88C518.59 389.51 520.13 391.4 521.61 393.13C523.1 394.86 524.82 396.87 526 398.26C527.19 399.66 527.64 400.12 528.72 401.47C529.8 402.83 531.24 404.68 532.49 406.4C533.74 408.11 534.95 409.87 536.21 411.75C537.47 413.62 538.78 415.58 540.03 417.63C541.28 419.68 542.47 421.88 543.7 424.05C544.93 426.23 546.17 428.74 547.42 430.69C548.67 432.63 549.94 434.31 551.19 435.71C552.44 437.12 553.67 438.26 554.91 439.14C556.15 440.01 556.76 440.46 558.63 440.96C560.5 441.46 563.42 441.85 566.12 442.13C568.82 442.42 571.25 442.38 574.85 442.67C578.45 442.95 583.67 443.52 587.73 443.85C591.78 444.17 595.28 444.35 599.17 444.59C603.07 444.84 607.12 445.18 611.1 445.34C615.08 445.5 619.05 445.54 623.02 445.56C627 445.58 631.05 445.7 634.95 445.45C638.85 445.2 643.22 444.56 646.4 444.06C649.58 443.56 651.96 442.99 654.03 442.45C656.1 441.92 658 441.12 658.8 440.85" stroke="#72e22a" stroke-width="2.35" fill="none" stroke-linejoin="round" stroke-linecap="butt"/>
<path d="M420.3 435.5C422.29 434.95 427.93 433.32 432.23 432.18C436.52 431.04 441.45 429.7 446.06 428.65C450.67 427.6 456.23 426.51 459.89 425.87C463.55 425.23 464.99 425.09 468 424.8C471.01 424.51 474.77 424.03 477.92 424.16C481.07 424.28 483.89 424.89 486.89 425.55C489.89 426.21 492.92 427.31 495.9 428.12C498.89 428.92 501.8 429.69 504.78 430.36C507.76 431.04 511.26 431.72 513.79 432.18C516.33 432.65 517.69 432.81 519.99 433.15C522.3 433.48 524.37 433.88 527.62 434.22C530.88 434.55 534.14 434.84 539.55 435.18C544.96 435.52 554.1 435.89 560.06 436.25C566.02 436.61 566.82 436.89 575.33 437.32C583.83 437.75 597.19 438.25 611.1 438.82C625.01 439.39 650.85 440.42 658.8 440.74" stroke="#e05618" stroke-width="2.35" fill="none" stroke-linejoin="round" stroke-linecap="butt"/>
<path d="M420.3 417.31C421.1 417.68 423.08 418.7 425.07 419.56C427.06 420.41 429.92 421.73 432.23 422.45C434.53 423.16 436.6 423.5 438.9 423.84C441.21 424.18 442.56 424.5 446.06 424.48C449.56 424.46 456.23 423.87 459.89 423.73C463.55 423.59 464.99 423.66 468 423.62C471.01 423.59 474.77 423.36 477.92 423.52C481.07 423.68 483.89 424.12 486.89 424.59C489.89 425.05 492.92 425.71 495.9 426.3C498.89 426.89 501.8 427.51 504.78 428.12C507.76 428.72 511.26 429.49 513.79 429.94C516.33 430.38 517.69 430.49 519.99 430.79C522.3 431.1 524.37 431.29 527.62 431.75C530.88 432.22 534.14 432.95 539.55 433.57C544.96 434.2 554.1 435 560.06 435.5C566.02 436 566.82 436.02 575.33 436.57C583.83 437.12 597.19 438.05 611.1 438.82C625.01 439.58 650.85 440.78 658.8 441.17" stroke="#a20c14" stroke-width="2.35" fill="none" stroke-linejoin="round" stroke-linecap="butt"/>
<path d="M480.6 283.3V300.2" stroke="#111" stroke-width="1.3"/>
<text x="483.1" y="281.8" text-anchor="middle" font-family='"Liberation Serif", serif' font-size="5.8" fill="#222">1.523</text>
<rect x="609.3" y="274.1" width="53.3" height="50.5" fill="#fff" stroke="#b4b4b4" stroke-width="0.9"/>
<path d="M610.3 280.7H633.8" stroke="#2a0cc4" stroke-width="2.3"/>
<text x="636.6" y="284.12" font-family='"Liberation Sans", sans-serif' font-size="9.5" fill="#222">1 mM</text>
<path d="M610.3 293.1H633.8" stroke="#72e22a" stroke-width="2.3"/>
<text x="636.6" y="296.52" font-family='"Liberation Sans", sans-serif' font-size="9.5" fill="#222">2 mM</text>
<path d="M610.3 305.5H633.8" stroke="#e05618" stroke-width="2.3"/>
<text x="636.6" y="308.93" font-family='"Liberation Sans", sans-serif' font-size="9.5" fill="#222">3 mM</text>
<path d="M610.3 317.9H633.8" stroke="#a20c14" stroke-width="2.3"/>
<text x="636.6" y="321.32" font-family='"Liberation Sans", sans-serif' font-size="9.5" fill="#222">4 mM</text>
<text x="0" y="0" transform="translate(385.2 366.2) rotate(-90)" text-anchor="middle" font-family='"Liberation Sans", sans-serif' font-weight="bold" font-size="11" fill="#1a1a1a" stroke="#1a1a1a" stroke-width="0.3">Abs</text>
<text x="495.8" y="502.1" font-family='"Liberation Sans", sans-serif' font-weight="bold" font-size="11.07" fill="#1a1a1a" stroke="#1a1a1a" stroke-width="0.3">Wavelength (nm)</text>
<text x="379.4" y="288" font-family='"Liberation Serif", serif' font-weight="bold" font-size="15" fill="#000" stroke="#000" stroke-width="0.35">d)</text>
<g stroke="#141414" stroke-width="1.9" fill="none" stroke-linecap="butt">
<path d="M210.7 545.16 V746.94 M206.9 743.14 H455"/>
<path d="M206.9 743.14H210.7M206.9 722.3H210.7M206.9 701.46H210.7M206.9 680.62H210.7M206.9 659.78H210.7M206.9 638.94H210.7M206.9 618.1H210.7M206.9 597.26H210.7M206.9 576.42H210.7M206.9 555.58H210.7M208.5 732.72H210.7M208.5 711.88H210.7M208.5 691.04H210.7M208.5 670.2H210.7M208.5 649.36H210.7M208.5 628.52H210.7M208.5 607.68H210.7M208.5 586.84H210.7M208.5 566H210.7M208.5 545.16H210.7M210.7 743.14V746.94M259.56 743.14V746.94M308.42 743.14V746.94M357.28 743.14V746.94M406.14 743.14V746.94M455 743.14V746.94M235.13 743.14V745.34M283.99 743.14V745.34M332.85 743.14V745.34M381.71 743.14V745.34M430.57 743.14V745.34"/>
</g>
<g font-family='"Liberation Sans", sans-serif' font-weight="bold" font-size="9.6" fill="#1a1a1a" stroke="#1a1a1a" stroke-width="0.3">
<text x="203.7" y="746.4" text-anchor="end">-0.2</text>
<text x="203.7" y="725.56" text-anchor="end">0.0</text>
<text x="203.7" y="704.72" text-anchor="end">0.2</text>
<text x="203.7" y="683.88" text-anchor="end">0.4</text>
<text x="203.7" y="663.04" text-anchor="end">0.6</text>
<text x="203.7" y="642.2" text-anchor="end">0.8</text>
<text x="203.7" y="621.36" text-anchor="end">1.0</text>
<text x="203.7" y="600.52" text-anchor="end">1.2</text>
<text x="203.7" y="579.68" text-anchor="end">1.4</text>
<text x="203.7" y="558.84" text-anchor="end">1.6</text>
<text x="210.7" y="757.61" text-anchor="middle">300</text>
<text x="259.56" y="757.61" text-anchor="middle">400</text>
<text x="308.42" y="757.61" text-anchor="middle">500</text>
<text x="357.28" y="757.61" text-anchor="middle">600</text>
<text x="406.14" y="757.61" text-anchor="middle">700</text>
<text x="455" y="757.61" text-anchor="middle">800</text>
</g>
<path d="M210.7 718.13C211.03 717.99 211.95 717.8 212.65 717.29C213.35 716.79 213.76 716.61 214.9 715.1C216.04 713.58 217.96 711.08 219.49 708.2C221.03 705.33 222.56 701.5 224.09 697.86C225.62 694.22 227.15 690 228.68 686.36C230.21 682.72 231.73 679.48 233.27 676.02C234.81 672.55 236.38 669.01 237.92 665.57C239.45 662.12 240.98 658.77 242.51 655.32C244.04 651.88 245.57 648.53 247.1 644.87C248.63 641.22 250.52 636.97 251.69 633.38C252.87 629.79 253.05 627.58 254.14 623.35C255.22 619.12 256.83 612.93 258.19 607.99C259.55 603.04 260.93 598.6 262.3 593.67C263.66 588.74 265.22 582.49 266.4 578.41C267.58 574.34 268.44 571.27 269.38 569.22C270.32 567.16 271.16 566.26 272.02 566.08C272.87 565.91 273.58 566.46 274.51 568.17C275.44 569.88 276.56 573.08 277.59 576.32C278.62 579.56 279.65 583.86 280.67 587.61C281.69 591.35 282.67 595.22 283.7 598.79C284.72 602.36 285.84 605.55 286.82 609.03C287.81 612.51 288.71 616.15 289.61 619.69C290.5 623.23 291.26 626.95 292.2 630.24C293.13 633.54 294.21 636.38 295.23 639.44C296.25 642.51 297.12 645.75 298.31 648.64C299.49 651.53 300.66 654.07 302.36 656.79C304.06 659.5 306.29 662.38 308.52 664.94C310.74 667.5 313.49 669.94 315.7 672.15C317.92 674.36 319.93 676 321.81 678.21C323.68 680.42 325.5 683.24 326.94 685.42C328.37 687.6 328.95 688.76 330.41 691.27C331.86 693.78 333.93 697.54 335.68 700.47C337.43 703.39 339.16 706.67 340.91 708.83C342.66 710.99 344.28 712.09 346.19 713.43C348.1 714.77 350.55 716.04 352.39 716.88C354.24 717.71 352.39 717.92 357.28 718.44C362.17 718.97 373.57 719.61 381.71 720.01C389.85 720.41 400.03 720.67 406.14 720.85C412.25 721.02 414.28 721.06 418.36 721.06C422.43 721.06 426.5 721.02 430.57 720.85C434.64 720.67 439.69 720.41 442.78 720.01C445.88 719.61 447.51 718.97 449.14 718.44C450.77 717.92 451.58 717.07 452.56 716.88C453.53 716.68 454.59 717.22 455 717.29" stroke="#5e0ec8" stroke-width="2.35" fill="none" stroke-linejoin="round" stroke-linecap="butt"/>
<path d="M210.7 663.27C211.4 662.88 213.44 661.91 214.9 660.97C216.37 660.03 217.78 658.95 219.49 657.62C221.21 656.3 223.3 654.56 225.21 653.03C227.13 651.49 229.06 649.87 230.98 648.43C232.89 646.98 234.77 645.61 236.69 644.35C238.62 643.1 240.59 642.14 242.51 640.9C244.43 639.67 246.6 638.38 248.22 636.93C249.85 635.49 250.99 634.06 252.23 632.23C253.47 630.4 254.32 628.47 255.65 625.96C256.98 623.45 258.59 619.85 260.2 617.18C261.8 614.52 263.66 611.54 265.28 609.97C266.9 608.4 268.38 607.78 269.92 607.78C271.46 607.78 272.88 608.4 274.51 609.97C276.14 611.54 277.94 614.34 279.69 617.18C281.44 620.02 283.28 624.32 285.02 627C286.75 629.69 288.4 631.2 290.1 633.27C291.8 635.35 293.53 637.4 295.23 639.44C296.93 641.48 298.6 643.13 300.31 645.5C302.02 647.87 303.77 651.09 305.49 653.65C307.21 656.21 308.92 658.63 310.62 660.86C312.32 663.09 314 665.15 315.7 667.03C317.4 668.91 318.79 670.37 320.83 672.15C322.87 673.93 325.37 676 327.92 677.69C330.46 679.38 333.27 680.84 336.12 682.29C338.97 683.73 342.47 685.12 345.02 686.36C347.57 687.6 348.6 688.4 351.42 689.71C354.23 691.01 358.44 693.01 361.92 694.2C365.41 695.38 368.49 696.17 372.33 696.81C376.17 697.46 379.14 697.42 384.98 698.07C390.83 698.71 399.94 699.98 407.41 700.68C414.88 701.37 421.94 701.57 429.79 702.25C437.64 702.92 450.31 704.32 454.51 704.75C458.71 705.19 454.92 704.84 455 704.86" stroke="#1ce88a" stroke-width="2.35" fill="none" stroke-linejoin="round" stroke-linecap="butt"/>
<path d="M210.7 697.75C212.17 697.47 217.08 696.46 219.49 696.08C221.91 695.7 223.3 695.64 225.21 695.45C227.13 695.26 229.06 695.21 230.98 694.93C232.89 694.65 234.77 694.29 236.69 693.78C238.62 693.28 240.59 692.75 242.51 691.9C244.43 691.05 246.14 689.83 248.22 688.66C250.31 687.49 253.02 686.17 255.02 684.9C257.01 683.63 258.44 681.92 260.2 681.03C261.95 680.14 263.77 679.76 265.52 679.57C267.27 679.38 268.97 679.38 270.7 679.88C272.43 680.39 274.13 681.54 275.88 682.6C277.63 683.66 279.45 685.12 281.2 686.26C282.96 687.39 284.65 688.43 286.38 689.39C288.12 690.35 289.86 691.13 291.61 692C293.36 692.87 295.14 693.83 296.89 694.62C298.64 695.4 300.38 696.1 302.12 696.71C303.85 697.32 305.56 697.68 307.3 698.27C309.03 698.87 310.77 699.55 312.52 700.26C314.28 700.97 316.06 701.67 317.8 702.56C319.54 703.45 320.86 704.2 322.98 705.59C325.1 706.98 327.52 709.25 330.5 710.92C333.49 712.59 335.68 714.38 340.91 715.62C346.15 716.86 353.74 717.64 361.92 718.34C370.11 719.03 378.57 719.49 390.02 719.8C401.46 720.11 419.74 720.1 430.57 720.22C441.4 720.34 450.93 720.48 455 720.53" stroke="#f2ee1e" stroke-width="2.35" fill="none" stroke-linejoin="round" stroke-linecap="butt"/>
<path d="M210.7 713.95C212.17 713.46 216.12 711.98 219.49 711.02C222.87 710.07 227.14 709.26 230.98 708.2C234.81 707.14 238.5 705.82 242.51 704.65C246.51 703.48 252.07 702 255.02 701.2C257.96 700.4 257.58 700.24 260.2 699.84C262.81 699.44 267.2 698.8 270.7 698.8C274.2 698.8 277.72 699.32 281.2 699.84C284.69 700.36 288.13 701.15 291.61 701.93C295.1 702.72 298.63 703.76 302.12 704.54C305.6 705.33 308.71 705.85 312.52 706.63C316.34 707.42 322 708.5 324.98 709.25C327.96 710 327.75 710.47 330.41 711.13C333.06 711.79 337.41 712.61 340.91 713.22C344.41 713.83 347.06 714.31 351.42 714.78C355.77 715.26 360.62 715.66 367.05 716.04C373.49 716.42 379.43 716.84 390.02 717.08C400.6 717.33 419.74 717.38 430.57 717.5C441.4 717.62 450.93 717.76 455 717.82" stroke="#900810" stroke-width="2.35" fill="none" stroke-linejoin="round" stroke-linecap="butt"/>
<path d="M210.7 712.17C212.17 711.7 216.12 710.4 219.49 709.35C222.87 708.31 227.14 707.07 230.98 705.9C234.81 704.74 238.5 703.71 242.51 702.35C246.51 700.99 252.07 698.88 255.02 697.75C257.96 696.62 258.44 696.13 260.2 695.56C261.95 694.98 263.42 694.6 265.52 694.3C267.62 694.01 270.19 693.64 272.8 693.78C275.42 693.92 278.94 694.6 281.2 695.14C283.47 695.68 284.65 696.32 286.38 697.02C288.12 697.72 289.86 698.59 291.61 699.32C293.36 700.05 294.28 700.54 296.89 701.41C299.5 702.28 303.81 703.5 307.3 704.54C310.78 705.59 314.85 706.83 317.8 707.68C320.75 708.53 322.87 709.02 324.98 709.66C327.1 710.31 327.85 710.9 330.5 711.55C333.16 712.19 337.43 712.94 340.91 713.53C344.4 714.12 347.06 714.65 351.42 715.1C355.77 715.55 360.62 715.88 367.05 716.25C373.49 716.61 379.43 717.05 390.02 717.29C400.6 717.54 419.74 717.59 430.57 717.71C441.4 717.83 450.93 717.97 455 718.02" stroke="#cc0a0c" stroke-width="2.35" fill="none" stroke-linejoin="round" stroke-linecap="butt"/>
<path d="M272 560V572.5" stroke="#444" stroke-width="1.6"/>
<text x="272.5" y="557.6" text-anchor="middle" font-family='"Liberation Sans", sans-serif' font-size="5.2" fill="#666">1.490</text>
<rect x="404.2" y="544.2" width="43.4" height="64.1" fill="#fff" stroke="#b4b4b4" stroke-width="0.9"/>
<path d="M405.1 551H429.8" stroke="#5e0ec8" stroke-width="2.3"/>
<text x="432.5" y="554.53" font-family='"Liberation Sans", sans-serif' font-size="9.8" fill="#222">1:1</text>
<path d="M405.1 563.68H429.8" stroke="#1ce88a" stroke-width="2.3"/>
<text x="432.5" y="567.21" font-family='"Liberation Sans", sans-serif' font-size="9.8" fill="#222">1:2</text>
<path d="M405.1 576.36H429.8" stroke="#f2ee1e" stroke-width="2.3"/>
<text x="432.5" y="579.89" font-family='"Liberation Sans", sans-serif' font-size="9.8" fill="#222">1:3</text>
<path d="M405.1 589.04H429.8" stroke="#cc0a0c" stroke-width="2.3"/>
<text x="432.5" y="592.57" font-family='"Liberation Sans", sans-serif' font-size="9.8" fill="#222">1:4</text>
<path d="M405.1 601.72H429.8" stroke="#900810" stroke-width="2.3"/>
<text x="432.5" y="605.25" font-family='"Liberation Sans", sans-serif' font-size="9.8" fill="#222">1:5</text>
<text x="0" y="0" transform="translate(174.8 638.6) rotate(-90)" text-anchor="middle" font-family='"Liberation Sans", sans-serif' font-weight="bold" font-size="11" fill="#1a1a1a" stroke="#1a1a1a" stroke-width="0.3">Abs</text>
<text x="287.9" y="777.7" font-family='"Liberation Sans", sans-serif' font-weight="bold" font-size="11.07" fill="#1a1a1a" stroke="#1a1a1a" stroke-width="0.3">Wavelength (nm)</text>
<text x="168" y="559.9" font-family='"Liberation Serif", serif' font-weight="bold" font-size="15" fill="#000" stroke="#000" stroke-width="0.35">e)</text>
</svg></body></html>
